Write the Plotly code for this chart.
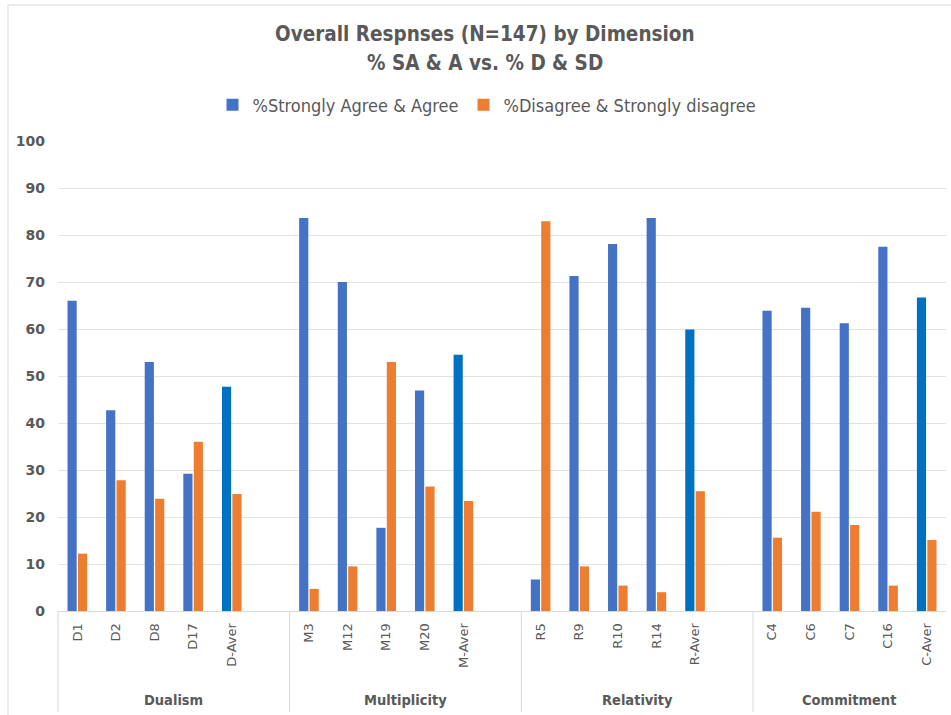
import plotly.graph_objects as go

# Survey items grouped by dimension (last item in each group is the group average)
dimensions = ["Dualism", "Multiplicity", "Relativity", "Commitment"]
items = [
    ["D1", "D2", "D8", "D17", "D-Aver"],
    ["M3", "M12", "M19", "M20", "M-Aver"],
    ["R5", "R9", "R10", "R14", "R-Aver"],
    ["C4", "C6", "C7", "C16", "C-Aver"],
]
agree = [
    [66.0, 42.7, 53.0, 29.2, 47.7],
    [83.6, 70.0, 17.7, 46.9, 54.5],
    [6.7, 71.3, 78.1, 83.6, 59.9],
    [63.9, 64.5, 61.2, 77.5, 66.7],
]
disagree = [
    [12.2, 27.8, 23.9, 36.0, 24.9],
    [4.7, 9.5, 53.0, 26.5, 23.4],
    [82.9, 9.5, 5.4, 4.0, 25.5],
    [15.6, 21.1, 18.3, 5.4, 15.1],
]
y_ticks = list(range(0, 101, 10))
title_lines = ["Overall Respnses (N=147) by Dimension", "% SA &amp; A vs. % D &amp; SD"]

BLUE = "#4472C4"
BLUE_AVG = "#0070C0"
ORANGE = "#ED7D31"
GREY_TXT = "#595959"
NARROW = "Liberation Sans Narrow, DejaVu Sans Condensed, Arial Narrow, sans-serif"

# Each dimension occupies 6 slots (5 items + one blank spacer), the last group has no spacer
slot = 0
xs, labels, a_vals, d_vals, a_cols = [], [], [], [], []
group_bounds = []
for g, name in enumerate(dimensions):
    start = slot
    for k, lab in enumerate(items[g]):
        xs.append(slot)
        labels.append(lab)
        a_vals.append(agree[g][k])
        d_vals.append(disagree[g][k])
        a_cols.append(BLUE_AVG if lab.endswith("Aver") else BLUE)
        slot += 1
    end = slot
    if g < len(dimensions) - 1:
        slot += 1
        end = slot
    group_bounds.append((start, end))
n_slots = slot

fig = go.Figure()
fig.add_trace(go.Bar(x=xs, y=a_vals, name="%Strongly Agree & Agree",
                     marker=dict(color=a_cols, line=dict(width=0))))
fig.add_trace(go.Bar(x=xs, y=d_vals, name="%Disagree & Strongly disagree",
                     marker=dict(color=ORANGE, line=dict(width=0))))

W, H = 951, 715
L, R, T, B = 58, 5, 141, 104
pw, ph = W - L - R, H - T - B

def py(ypix):
    return (H - B - ypix) / ph

def px(xpix):
    return (xpix - L) / pw

shapes = []
annotations = []
# outer chart border
shapes.append(dict(type="rect", xref="paper", yref="paper",
                   x0=px(8), x1=px(W + 10), y0=py(H + 10), y1=py(5),
                   line=dict(color="#D9D9D9", width=1), layer="below"))
# group dividers and group names below the axis
for g, (s, e) in enumerate(group_bounds):
    xb = s / n_slots
    shapes.append(dict(type="line", xref="paper", yref="paper",
                       x0=xb, x1=xb, y0=0, y1=py(712),
                       line=dict(color="#D9D9D9", width=1)))
    annotations.append(dict(xref="paper", yref="paper",
                            x=((s + e) / 2) / n_slots, y=py(700),
                            text=dimensions[g], showarrow=False,
                            xanchor="center", yanchor="middle",
                            font=dict(family=NARROW, size=14.5, color=GREY_TXT, weight="bold")))
# two-line chart title
for line, ypix in zip(title_lines, [34, 63]):
    annotations.append(dict(xref="paper", yref="paper", x=px(485), y=py(ypix),
                            text=line, showarrow=False,
                            xanchor="center", yanchor="middle",
                            font=dict(family=NARROW, size=20.5, color=GREY_TXT, weight="bold")))

fig.update_layout(
    width=W, height=H,
    margin=dict(l=L, r=R, t=T, b=B),
    paper_bgcolor="white", plot_bgcolor="white",
    barmode="group", bargap=0.46, bargroupgap=0.12,
    legend=dict(orientation="h", x=px(487), xanchor="center",
                y=py(105), yanchor="middle",
                font=dict(family=NARROW, size=18, color=GREY_TXT),
                itemwidth=30, tracegroupgap=0),
    xaxis=dict(range=[-0.5, n_slots - 0.5], tickmode="array",
               tickvals=xs, ticktext=labels, tickangle=-90,
               showgrid=False, zeroline=False, showline=True,
               linecolor="#D9D9D9", linewidth=1, ticks="",
               ticklabelstandoff=6,
               tickfont=dict(family="DejaVu Sans", size=13, color=GREY_TXT)),
    yaxis=dict(range=[0, 100], tickmode="array", tickvals=y_ticks,
               showgrid=True, gridcolor="#E3E3E3", gridwidth=1,
               zeroline=False, showline=False, ticks="",
               ticklabelstandoff=12,
               tickfont=dict(family="DejaVu Sans", size=14, color=GREY_TXT, weight="bold")),
    shapes=shapes, annotations=annotations,
)

fig.write_html("out.html")
